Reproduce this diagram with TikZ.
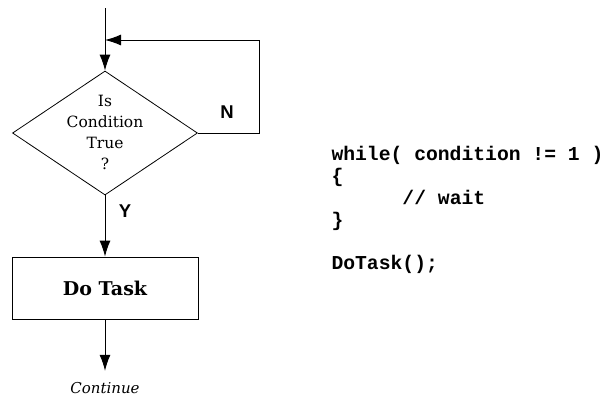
\documentclass[tikz,border=0pt]{standalone}
\usepackage{fontspec}
\usepackage{tikz}
\usetikzlibrary{shapes.geometric,arrows.meta,positioning}
\setmainfont{DejaVu Serif}
\newfontfamily\codefont{Liberation Mono}
\newfontfamily\yesnofont{Liberation Sans}
\tikzset{
	flow/.style={-{Latex[length=16pt,width=11pt]},line width=1pt},
	decision/.style={diamond,draw,line width=0.8pt,minimum width=185pt,minimum height=124pt,inner sep=0pt},
	taskbox/.style={rectangle,draw,line width=0.8pt,minimum width=186pt,minimum height=62pt},
	yesno/.style={font=\yesnofont\bfseries\fontsize{18.5}{20}\selectfont},
	codetext/.style={align=left,font=\codefont\bfseries\fontsize{19.7}{21.8}\selectfont}
}
\begin{document}
\begin{tikzpicture}[x=1pt,y=-1pt]
		\useasboundingbox (0,0) rectangle (610,397);
		\coordinate (start) at (105,8);
		\coordinate (loopcorner) at (259,40);
		\coordinate (join) at (105,40);
		\node[decision] (cond) at (105,133) {};
		\node[align=center,font=\fontsize{15.5}{21}\selectfont] (condtext) at (105,132) {Is\\Condition\\True\\?};
		\node[taskbox,font=\bfseries\fontsize{19}{22}\selectfont] (task) at (105,288) {Do Task};
		\node[font=\itshape\fontsize{15}{18}\selectfont] (cont) at (105,388) {Continue};
		\node[yesno] (no) at (227,112) {N};
		\node[yesno] (yes) at (125,211) {Y};
		\node[codetext,anchor=west] (code) at (328,210) {while( condition != 1 )\\\{\\\phantom{000000}// wait\\\}\\\\DoTask();};
		\draw[flow] (start) -- (cond.north);
		\draw[flow] (cond.east) -| (loopcorner) -- (join);
		\draw[flow] (cond.south) -- (task.north);
		\draw[flow,shorten >=8pt] (task.south) -- (cont.north);
	\end{tikzpicture}
\end{document}
